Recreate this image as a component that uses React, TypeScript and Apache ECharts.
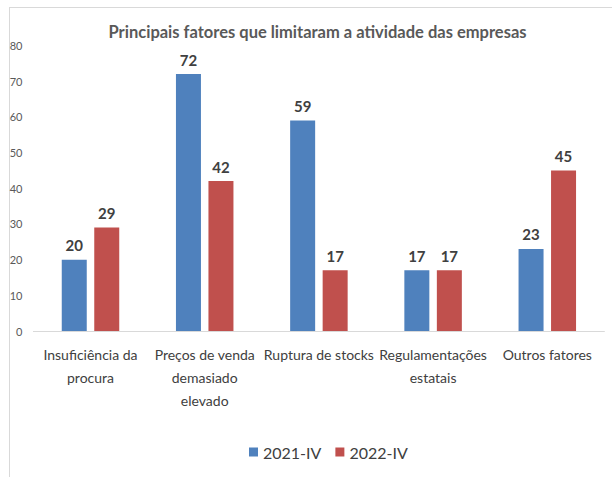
import React, { useEffect, useRef } from "react";
import * as echarts from "echarts";

const categories = [
  "Insuficiência da\nprocura",
  "Preços de venda\ndemasiado\nelevado",
  "Ruptura de stocks",
  "Regulamentações\nestatais",
  "Outros fatores",
];
const series2021 = [20, 72, 59, 17, 23];
const series2022 = [29, 42, 17, 17, 45];
const seriesNames = ["2021-IV", "2022-IV"];
const yTicks = { min: 0, max: 80, interval: 10 };
const titleText = "Principais fatores que limitaram a atividade das empresas";

const FONT = "Lato, 'Liberation Sans', sans-serif";

export default function App() {
  const ref = useRef<HTMLDivElement>(null);
  useEffect(() => {
    if (!ref.current) return;
    const chart = echarts.init(ref.current, undefined, { renderer: "svg" });
    const labelStyle = {
      show: true,
      position: "top" as const,
      distance: 7,
      fontFamily: FONT,
      fontWeight: "bold" as const,
      fontSize: 15,
      color: "#404040",
    };
    chart.setOption({
      animation: false,
      backgroundColor: "#ffffff",
      legend: {
        data: seriesNames,
        left: 244,
        top: 439,
        itemWidth: 9,
        itemHeight: 9,
        itemGap: 14,
        icon: "rect",
        textStyle: { fontFamily: FONT, fontSize: 16, color: "#404040" },
      },
      grid: { left: 33.4, right: 7.6, top: 45.5, bottom: 146, containLabel: false },
      xAxis: {
        type: "category",
        data: categories,
        axisLine: { show: true, lineStyle: { color: "#d9d9d9", width: 1 } },
        axisTick: { show: false },
        axisLabel: {
          interval: 0,
          margin: 12,
          fontFamily: FONT,
          fontSize: 14,
          lineHeight: 23,
          color: "#404040",
        },
      },
      yAxis: {
        type: "value",
        min: yTicks.min,
        max: yTicks.max,
        interval: yTicks.interval,
        axisLine: { show: false },
        axisTick: { show: false },
        splitLine: { show: false },
        axisLabel: { margin: 11, fontFamily: FONT, fontSize: 11, color: "#595959" },
      },
      series: [
        {
          name: seriesNames[0],
          type: "bar",
          data: series2021,
          barWidth: 25,
          barGap: "30%",
          itemStyle: { color: "#4F81BD" },
          label: labelStyle,
        },
        {
          name: seriesNames[1],
          type: "bar",
          data: series2022,
          barWidth: 25,
          barGap: "30%",
          itemStyle: { color: "#C0504D" },
          label: labelStyle,
        },
      ],
      graphic: [
        { type: "line", shape: { x1: 9, y1: 7.5, x2: 612, y2: 7.5 }, style: { stroke: "#d9d9d9", lineWidth: 1 } },
        { type: "line", shape: { x1: 9.5, y1: 7, x2: 9.5, y2: 477 }, style: { stroke: "#d9d9d9", lineWidth: 1 } },
        {
          type: "text",
          x: 317.5,
          y: 32,
          style: {
            text: titleText,
            textAlign: "center",
            textVerticalAlign: "middle",
            fontFamily: FONT,
            fontWeight: "bold",
            fontSize: 16.5,
            fill: "#595959",
          },
        },
      ],
    });
    return () => chart.dispose();
  }, []);
  return (
    <div
      ref={ref}
      style={{ position: "absolute", left: 0, top: 0, width: 612, height: 477 }}
    />
  );
}
